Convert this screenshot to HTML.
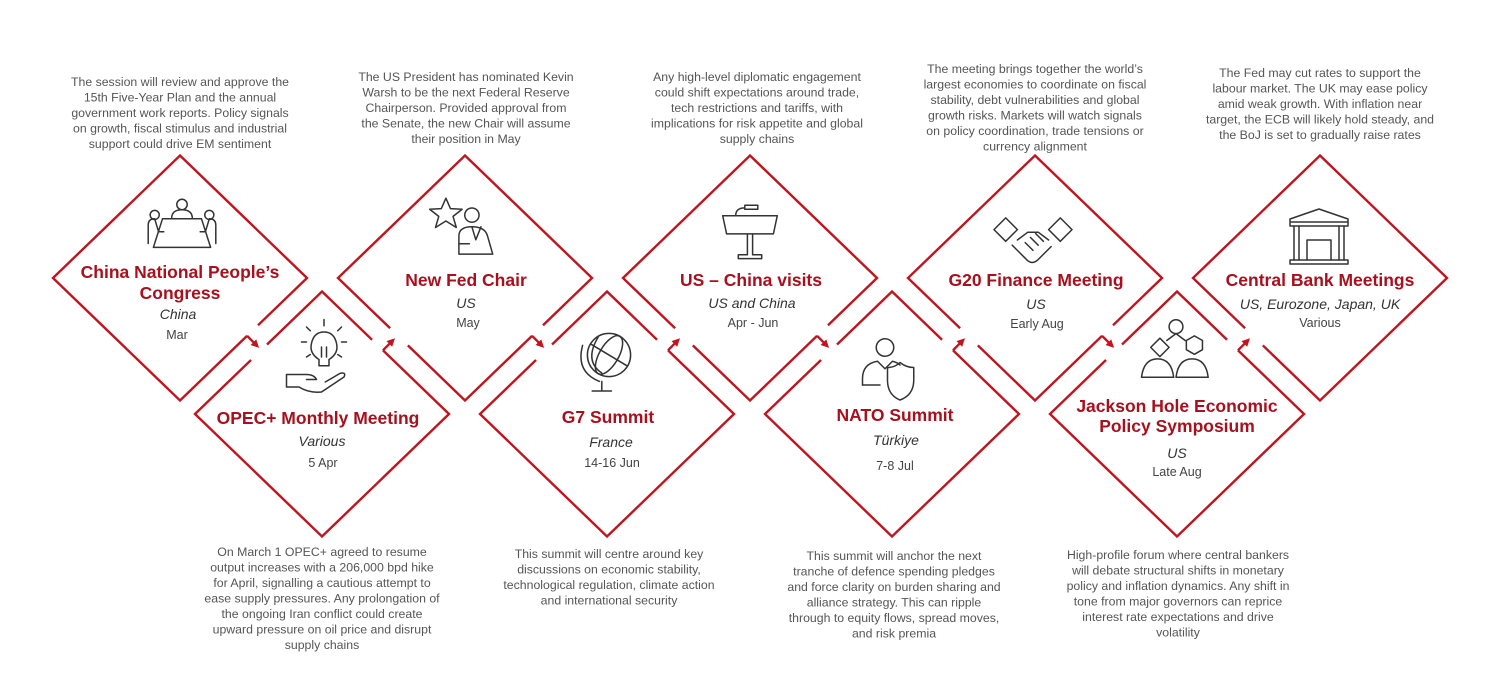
<!DOCTYPE html>
<html><head><meta charset="utf-8">
<style>
html,body{margin:0;padding:0;background:#fff;}
svg{display:block;}
text{font-family:"Liberation Sans",Arial,sans-serif;}
.d{fill:#555;font-size:12.3px;text-anchor:middle;}
.t{fill:#a8101e;font-size:17.5px;font-weight:bold;text-anchor:middle;}
.l{fill:#333;font-size:14px;font-style:italic;text-anchor:middle;}
.w{fill:#444;font-size:12.5px;text-anchor:middle;}
.ic{fill:none;stroke:#333;stroke-width:1.5;stroke-linejoin:round;stroke-linecap:round;}
.ic *{vector-effect:non-scaling-stroke;}
</style></head>
<body>
<svg id="s" width="1508" height="692" viewBox="0 0 1508 692" xmlns="http://www.w3.org/2000/svg">
<g id="shapes"></g>
<g id="texts">
<text class="d"><tspan x="180" y="86">The session will review and approve the</tspan><tspan x="180" dy="15.5">15th Five-Year Plan and the annual</tspan><tspan x="180" dy="15.5">government work reports. Policy signals</tspan><tspan x="180" dy="15.5">on growth, fiscal stimulus and industrial</tspan><tspan x="180" dy="15.5">support could drive EM sentiment</tspan></text>
<text class="d"><tspan x="466" y="81">The US President has nominated Kevin</tspan><tspan x="466" dy="15.5">Warsh to be the next Federal Reserve</tspan><tspan x="466" dy="15.5">Chairperson. Provided approval from</tspan><tspan x="466" dy="15.5">the Senate, the new Chair will assume</tspan><tspan x="466" dy="15.5">their position in May</tspan></text>
<text class="d"><tspan x="757" y="81">Any high-level diplomatic engagement</tspan><tspan x="757" dy="15.5">could shift expectations around trade,</tspan><tspan x="757" dy="15.5">tech restrictions and tariffs, with</tspan><tspan x="757" dy="15.5">implications for risk appetite and global</tspan><tspan x="757" dy="15.5">supply chains</tspan></text>
<text class="d"><tspan x="1035" y="73">The meeting brings together the world’s</tspan><tspan x="1035" dy="15.5">largest economies to coordinate on fiscal</tspan><tspan x="1035" dy="15.5">stability, debt vulnerabilities and global</tspan><tspan x="1035" dy="15.5">growth risks. Markets will watch signals</tspan><tspan x="1035" dy="15.5">on policy coordination, trade tensions or</tspan><tspan x="1035" dy="15.5">currency alignment</tspan></text>
<text class="d"><tspan x="1320" y="77">The Fed may cut rates to support the</tspan><tspan x="1320" dy="15.5">labour market. The UK may ease policy</tspan><tspan x="1320" dy="15.5">amid weak growth. With inflation near</tspan><tspan x="1320" dy="15.5">target, the ECB will likely hold steady, and</tspan><tspan x="1320" dy="15.5">the BoJ is set to gradually raise rates</tspan></text>
<text class="d"><tspan x="322" y="556">On March 1 OPEC+ agreed to resume</tspan><tspan x="322" dy="15.5">output increases with a 206,000 bpd hike</tspan><tspan x="322" dy="15.5">for April, signalling a cautious attempt to</tspan><tspan x="322" dy="15.5">ease supply pressures. Any prolongation of</tspan><tspan x="322" dy="15.5">the ongoing Iran conflict could create</tspan><tspan x="322" dy="15.5">upward pressure on oil price and disrupt</tspan><tspan x="322" dy="15.5">supply chains</tspan></text>
<text class="d"><tspan x="609" y="558">This summit will centre around key</tspan><tspan x="609" dy="15.5">discussions on economic stability,</tspan><tspan x="609" dy="15.5">technological regulation, climate action</tspan><tspan x="609" dy="15.5">and international security</tspan></text>
<text class="d"><tspan x="894" y="560">This summit will anchor the next</tspan><tspan x="894" dy="15.5">tranche of defence spending pledges</tspan><tspan x="894" dy="15.5">and force clarity on burden sharing and</tspan><tspan x="894" dy="15.5">alliance strategy. This can ripple</tspan><tspan x="894" dy="15.5">through to equity flows, spread moves,</tspan><tspan x="894" dy="15.5">and risk premia</tspan></text>
<text class="d"><tspan x="1178" y="559">High-profile forum where central bankers</tspan><tspan x="1178" dy="15.5">will debate structural shifts in monetary</tspan><tspan x="1178" dy="15.5">policy and inflation dynamics. Any shift in</tspan><tspan x="1178" dy="15.5">tone from major governors can reprice</tspan><tspan x="1178" dy="15.5">interest rate expectations and drive</tspan><tspan x="1178" dy="15.5">volatility</tspan></text>
<text class="t" x="180" y="278">China National People’s</text><text class="t" x="180" y="299">Congress</text>
<text class="l" x="178" y="319">China</text><text class="w" x="177" y="339">Mar</text>
<text class="t" x="466" y="286">New Fed Chair</text><text class="l" x="466" y="308">US</text><text class="w" x="468" y="327">May</text>
<text class="t" x="751" y="286">US – China visits</text><text class="l" x="752" y="308">US and China</text><text class="w" x="753" y="327">Apr - Jun</text>
<text class="t" x="1036" y="286">G20 Finance Meeting</text><text class="l" x="1036" y="309">US</text><text class="w" x="1037" y="328">Early Aug</text>
<text class="t" x="1320" y="286">Central Bank Meetings</text><text class="l" x="1320" y="309">US, Eurozone, Japan, UK</text><text class="w" x="1320" y="327">Various</text>
<text class="t" x="318" y="424">OPEC+ Monthly Meeting</text><text class="l" x="322" y="446">Various</text><text class="w" x="323" y="467">5 Apr</text>
<text class="t" x="608" y="423">G7 Summit</text><text class="l" x="611" y="447">France</text><text class="w" x="612" y="467">14-16 Jun</text>
<text class="t" x="895" y="421">NATO Summit</text><text class="l" x="896" y="445">Türkiye</text><text class="w" x="895" y="470">7-8 Jul</text>
<text class="t" x="1177" y="412">Jackson Hole Economic</text><text class="t" x="1177" y="432">Policy Symposium</text><text class="l" x="1177" y="458">US</text><text class="w" x="1177" y="476">Late Aug</text>
</g>
<g class="ic">
<g transform="translate(182,224) scale(1.3)"><circle cx="0" cy="-15" r="4"/><path d="M-8,-4 q0,-7 8,-7 q8,0 8,7"/><path d="M-15,-4 h30 l7,22 h-44 z"/><circle cx="-21" cy="-7" r="3.5"/><circle cx="21" cy="-7" r="3.5"/><path d="M-26,15 v-14 q0,-5 5,-5 l3,10 h4"/><path d="M26,15 v-14 q0,-5 -5,-5 l-3,10 h-4"/></g>
<g transform="translate(468,232) scale(1.3)"><path d="M-17,-26 l3.5,8 9,0.5 -7,5.5 2.5,8.5 -8,-5 -8,5 2.5,-8.5 -7,-5.5 9,-0.5z"/><circle cx="3" cy="-13" r="5.5"/><path d="M-7,17 v-14 q0,-7 10,-7 q10,0 12,7 l4,14 z"/><path d="M3,-4 l3,10 l4,-10"/><path d="M-7,9 h8"/></g>
<g transform="translate(750,230) scale(1.3)"><path d="M-4,-19 h10 v3 h-10 z M-4,-17 q-7,0 -7,6"/><path d="M-21,-11 h42 l-3,14 h-36 z"/><path d="M-2,3 v16 h-7 v3 h18 v-3 h-7 v-16"/></g>
<g transform="translate(1033,240) scale(1.3)"><path d="M-30,-8 l9,-9 9,9 -9,9z M30,-8 l-9,-9 -9,9 9,9z"/><path d="M-12,0 l8,-6 h8 l8,6"/><path d="M-16,4 l12,12 q4,3 8,-1 l10,-10"/><path d="M-6,2 l6,6 M-2,-2 l6,6 M2,-5 l6,6"/></g>
<g transform="translate(1319,236) scale(1.0)"><path d="M-29,-14 h58 v-3 l-29,-10 -29,10 z M-29,-14 v4 h58 v-4"/><path d="M-25,-10 v34 M-20,-10 v34 M20,-10 v34 M25,-10 v34"/><path d="M-12,24 v-20 h24 v20"/><path d="M-29,24 h58 v4 h-58 z"/></g>
<g transform="translate(324,362) scale(1.25)"><path d="M-4,-2 q-8,-5 -6,-13 q2,-9 10,-9 q8,0 10,9 q2,8 -6,13 v5 h-8 z"/><path d="M-2,-4 v-8 M2,-4 v-8"/><path d="M0,-34 v5 M-14,-28 l3,3 M14,-28 l-3,3 M-18,-16 h4 M18,-16 h-4 M-14,-4 l3,-2 M14,-4 l-3,-2"/><path d="M-30,10 h16 q6,0 8,4 h-8 M-30,10 v10 h10 q8,5 18,4 l18,-12 q2,-4 -3,-3 l-12,7"/></g>
<g transform="translate(609,355) scale(1.2)"><circle cx="0" cy="0" r="18"/><ellipse cx="0" cy="0" rx="8" ry="18" transform="rotate(30)"/><path d="M-15,-9 l30,18 M-9,-15 q-12,20 3,30"/><path d="M-22,-8 q-6,22 14,30 M-6,22 v8 M-14,30 h16"/></g>
<g transform="translate(890,365) scale(1.25)"><circle cx="-4" cy="-14" r="7"/><path d="M-22,16 v-5 q0,-12 12,-14 l6,6 6,-6 q4,1 6,3"/><path d="M-22,16 h14"/><path d="M-2,2 q6,0 10,-4 q5,4 11,4 v10 q0,12 -11,16 q-10,-4 -10,-16 z"/></g>
<g transform="translate(1176,352) scale(1.15)"><circle cx="0" cy="-22" r="6"/><path d="M-8,-10 l8,-6 8,6"/><path d="M-14,-12 l8,8 -8,8 -8,-8 z"/><path d="M16,-14 l7,4 v8 l-7,4 -7,-4 v-8 z"/><path d="M-30,22 q2,-16 14,-16 q12,0 14,16 z"/><path d="M0,22 q2,-16 14,-16 q12,0 14,16 z"/></g>
</g>
</svg>
<script>
(function(){
var g=document.getElementById('shapes');var NS='http://www.w3.org/2000/svg';
var C='#c0141f',SW=2.4;
function el(n,a){var e=document.createElementNS(NS,n);for(var k in a)e.setAttribute(k,a[k]);g.appendChild(e);return e;}
var A=127,B=122.5;
var tops=[],bots=[];
for(var i=0;i<5;i++)tops.push([180+285*i,278]);
for(var i=0;i<4;i++)bots.push([322+285*i,414]);
function dia(c){el('polygon',{points:[c[0],c[1]-B,c[0]+A,c[1],c[0],c[1]+B,c[0]-A,c[1]].join(' '),fill:'none',stroke:C,'stroke-width':SW,'stroke-linejoin':'miter'});}
tops.forEach(dia);bots.forEach(dia);
function lerp(p,q,t){return [p[0]+(q[0]-p[0])*t,p[1]+(q[1]-p[1])*t];}
function erase(p,q,t1,t2){var a=lerp(p,q,t1),b=lerp(p,q,t2);el('line',{x1:a[0],y1:a[1],x2:b[0],y2:b[1],stroke:'#fff','stroke-width':6});}
function arrow(p,dx,dy,len){var s=Math.SQRT1_2;var ux=dx*s,uy=dy*s;var e=[p[0]+ux*len,p[1]+uy*len];
 el('line',{x1:p[0],y1:p[1],x2:e[0]-ux*5,y2:e[1]-uy*5,stroke:C,'stroke-width':SW});
 var px=-uy,py=ux;
 el('polygon',{points:[e[0],e[1],e[0]-ux*8+px*4,e[1]-uy*8+py*4,e[0]-ux*8-px*4,e[1]-uy*8-py*4].join(' '),fill:C});}
for(var i=0;i<4;i++){
 var T=tops[i],Bt=bots[i];
 var p0=[T[0]+A,T[1]],p1=[T[0],T[1]+B];
 var q0=[Bt[0],Bt[1]-B],q1=[Bt[0]-A,Bt[1]];
 erase(p0,p1,0.386,0.472);erase(q0,q1,0.433,0.559);
 arrow(lerp(p0,p1,0.472),1,1,17);
 var N=tops[i+1];
 var r0=[Bt[0],Bt[1]-B],r1=[Bt[0]+A,Bt[1]];
 var s0=[N[0]-A,N[1]],s1=[N[0],N[1]+B];
 erase(r0,r1,0.394,0.48);erase(s0,s1,0.41,0.55);
 arrow(lerp(r0,r1,0.48),1,-1,17);
}
})();
</script>
</body></html>
